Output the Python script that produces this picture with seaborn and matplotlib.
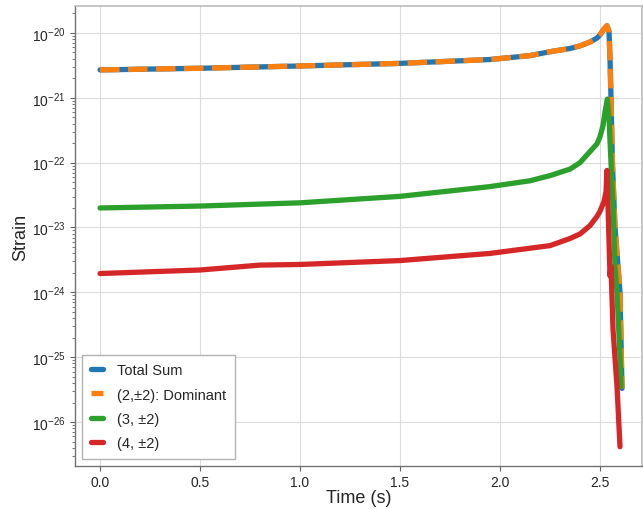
import numpy as np
import pandas as pd
import matplotlib
matplotlib.use("Agg")
import matplotlib.pyplot as plt
import seaborn as sns

# values (time in s, strain)
t_total = [0.0, 0.5, 1.0, 1.5, 1.95, 2.15, 2.25, 2.35, 2.4, 2.45, 2.485, 2.5, 2.52, 2.535,
           2.545, 2.55, 2.555, 2.562, 2.575, 2.6, 2.61]
h_total = [2.69e-21, 2.85e-21, 3.09e-21, 3.39e-21, 3.89e-21, 4.47e-21, 5.13e-21, 5.75e-21,
           6.31e-21, 7.24e-21, 8.32e-21, 9.33e-21, 1.15e-20, 1.29e-20,
           1.05e-20, 3.98e-21, 1.0e-21, 1.0e-22, 1.0e-23, 1.0e-24, 3.3e-26]

t_dom = t_total
h_dom = h_total

t_l3 = [0.0, 0.5, 1.0, 1.5, 1.95, 2.15, 2.25, 2.35, 2.4, 2.45, 2.485, 2.5, 2.515, 2.525, 2.537,
        2.545, 2.555, 2.565, 2.575, 2.585, 2.6, 2.605]
h_l3 = [2.0e-23, 2.14e-23, 2.4e-23, 3.02e-23, 4.27e-23, 5.25e-23, 6.31e-23, 7.94e-23,
        1.0e-22, 1.48e-22, 1.95e-22, 2.51e-22, 3.72e-22, 6.03e-22, 9.55e-22,
        5.01e-22, 1.0e-22, 2.19e-23, 2.51e-24, 1.0e-24, 1.0e-25, 3.55e-26]

t_l4 = [0.0, 0.5, 0.8, 1.0, 1.5, 1.95, 2.0, 2.15, 2.25, 2.35, 2.4, 2.45, 2.485, 2.5, 2.52,
        2.53, 2.535, 2.545, 2.55, 2.555, 2.565, 2.585, 2.6]
h_l4 = [1.95e-24, 2.21e-24, 2.63e-24, 2.69e-24, 3.09e-24, 3.98e-24, 4.17e-24, 4.79e-24,
        5.25e-24, 6.76e-24, 7.94e-24, 1.07e-23, 1.48e-23, 1.78e-23, 2.51e-23,
        3.55e-23, 7.59e-23, 6.31e-24, 1.78e-24, 2.51e-24, 2.69e-25, 3.55e-26, 4.17e-27]

y_ticks = [1e-20, 1e-21, 1e-22, 1e-23, 1e-24, 1e-25, 1e-26]
labels = ["Total Sum", "(2,\u00b12): Dominant", "(3, \u00b12)", "(4, \u00b12)"]

sns.set_theme(style="whitegrid", rc={"grid.color": "#dcdcdc", "grid.linewidth": 0.8})
plt.rcParams["font.family"] = ["Liberation Sans", "DejaVu Sans"]
plt.rcParams["mathtext.fontset"] = "custom"
plt.rcParams["mathtext.rm"] = "Liberation Sans"
plt.rcParams["mathtext.it"] = "Liberation Sans:italic"

fig = plt.figure(figsize=(6.43, 5.10), dpi=100)
ax = fig.add_axes([75 / 643, 43 / 510, 567 / 643, 460 / 510])

pal = sns.color_palette("tab10")
sns.lineplot(x=t_total, y=h_total, ax=ax, color=pal[0], lw=3.8, label=labels[0])
sns.lineplot(x=t_dom, y=h_dom, ax=ax, color=pal[1], lw=3.8, linestyle="--", label=labels[1])
sns.lineplot(x=t_l3, y=h_l3, ax=ax, color=pal[2], lw=3.8, label=labels[2])
sns.lineplot(x=t_l4, y=h_l4, ax=ax, color=pal[3], lw=3.8, label=labels[3])

ax.set_yscale("log")
ax.set_yticks(y_ticks)
ax.set_xlim(-0.125, 2.71)
ax.set_ylim(2.1e-27, 2.6e-20)
ax.set_xlabel("Time (s)", fontsize=13, labelpad=0)
ax.set_ylabel("Strain", fontsize=13, labelpad=2)
ax.tick_params(axis="both", which="major", labelsize=10, length=3.5, width=0.8,
               left=True, bottom=True, color="0.4", pad=3)
ax.tick_params(axis="y", which="minor", left=True, length=2, width=0.6, color="0.4")
for s in ["left", "bottom"]:
    ax.spines[s].set_color("0.45")
    ax.spines[s].set_linewidth(1.0)
for s in ["top", "right"]:
    ax.spines[s].set_color("0.75")

leg = ax.legend(loc="lower left", fontsize=10.5, handlelength=0.8, frameon=True,
                fancybox=False, edgecolor="0.7", framealpha=1, borderpad=0.6,
                labelspacing=0.7, handletextpad=1.0)

fig.savefig("out.png", dpi=100)
